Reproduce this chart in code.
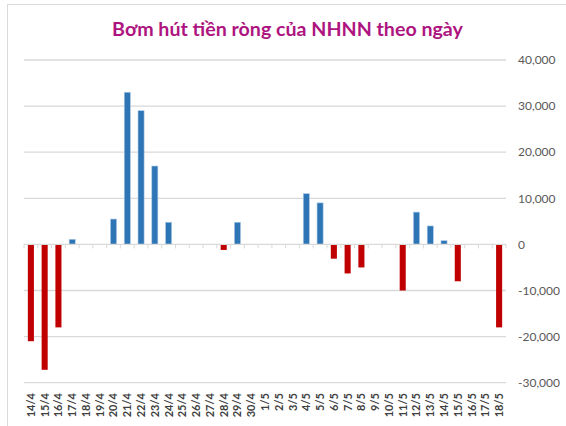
<!DOCTYPE html>
<html>
<head>
<meta charset="utf-8">
<script src="https://cdn.jsdelivr.net/npm/d3@7"></script>
<style>
  body { margin: 0; background: #fff; }
  svg { display: block; }
</style>
</head>
<body>
<div id="wrapper"></div>
<script>
// data
const dates = [
  '14/4', '15/4', '16/4', '17/4', '18/4', '19/4', '20/4', '21/4', '22/4',
  '23/4', '24/4', '25/4', '26/4', '27/4', '28/4', '29/4', '30/4',
  '1/5', '2/5', '3/5', '4/5', '5/5', '6/5', '7/5', '8/5', '9/5', '10/5',
  '11/5', '12/5', '13/5', '14/5', '15/5', '16/5', '17/5', '18/5'
];
const netValues = [
  -21000, -27200, -18000, 1100, 0, 0, 5500, 33000, 29000,
  17000, 4800, 0, 0, 0, -1200, 4800, 0,
  0, 0, 0, 11000, 9000, -3100, -6300, -5000, 0, 0,
  -10000, 7000, 4000, 800, -8000, 0, 0, -18000
];
const yTicks = [-30000, -20000, -10000, 0, 10000, 20000, 30000, 40000];
const title = 'Bơm hút tiền ròng của NHNN theo ngày';

const dataset = dates.map((d, i) => ({ date: d, value: netValues[i] }));

// dimensions
const dimensions = {
  width: 566,
  height: 426,
  plotLeft: 24,
  plotRight: 506,
  plotTop: 60,
  plotBottom: 382.7
};

const svg = d3
  .select('#wrapper')
  .append('svg')
  .attr('width', dimensions.width)
  .attr('height', dimensions.height);

// frame lines
svg.append('line')
  .attr('x1', 7.5).attr('x2', 7.5)
  .attr('y1', 4.5).attr('y2', dimensions.height)
  .attr('stroke', '#d9d9d9');
svg.append('line')
  .attr('x1', 7.5).attr('x2', dimensions.width)
  .attr('y1', 4.5).attr('y2', 4.5)
  .attr('stroke', '#d9d9d9');

// scales
const inner = 0.56;
const xScale = d3
  .scaleBand()
  .domain(dates)
  .range([dimensions.plotLeft, dimensions.plotRight])
  .paddingInner(inner)
  .paddingOuter(inner / 2);

const yScale = d3
  .scaleLinear()
  .domain([-30000, 40000])
  .range([dimensions.plotBottom, dimensions.plotTop]);

// gridlines
svg.append('g')
  .selectAll('line')
  .data(yTicks.filter(t => t !== 0))
  .join('line')
  .attr('x1', dimensions.plotLeft)
  .attr('x2', dimensions.plotRight)
  .attr('y1', d => yScale(d))
  .attr('y2', d => yScale(d))
  .attr('stroke', '#d9d9d9')
  .attr('stroke-width', 1.3);

// bars
svg.append('g')
  .selectAll('rect')
  .data(dataset.filter(d => d.value !== 0))
  .join('rect')
  .attr('x', d => xScale(d.date))
  .attr('width', xScale.bandwidth())
  .attr('y', d => yScale(Math.max(0, d.value)))
  .attr('height', d => Math.abs(yScale(d.value) - yScale(0)))
  .attr('fill', d => (d.value > 0 ? '#2e75b6' : '#c00000'))
  .attr('stroke', d => (d.value > 0 ? '#a7c6e6' : 'none'))
  .attr('stroke-width', 0.6);

// zero line with category ticks
const step = xScale.step();
const y0 = yScale(0);
svg.append('line')
  .attr('x1', dimensions.plotLeft)
  .attr('x2', dimensions.plotRight)
  .attr('y1', y0)
  .attr('y2', y0)
  .attr('stroke', '#d9d9d9')
  .attr('stroke-width', 1.3);

svg.append('g')
  .selectAll('line')
  .data(d3.range(dates.length + 1))
  .join('line')
  .attr('x1', i => dimensions.plotLeft + i * step)
  .attr('x2', i => dimensions.plotLeft + i * step)
  .attr('y1', y0)
  .attr('y2', y0 + 4)
  .attr('stroke', '#d9d9d9');

// y axis labels (right)
const yFormat = d3.format(',');
svg.append('g')
  .selectAll('text')
  .data(yTicks)
  .join('text')
  .attr('x', 518)
  .attr('y', d => yScale(d))
  .attr('dy', '0.35em')
  .attr('font-family', 'Lato, sans-serif')
  .attr('font-size', 12)
  .attr('fill', '#595959')
  .text(d => (d < 0 ? '-' : '') + yFormat(Math.abs(d)));

// x axis labels (rotated)
svg.append('g')
  .selectAll('text')
  .data(dates)
  .join('text')
  .attr('transform', d => `translate(${xScale(d) + xScale.bandwidth() / 2}, 393) rotate(-90)`)
  .attr('dy', '0.36em')
  .attr('text-anchor', 'end')
  .attr('font-family', 'Lato, sans-serif')
  .attr('font-weight', 'bold')
  .attr('font-size', 11)
  .attr('fill', '#404040')
  .text(d => d);

// title
const titleText = svg.append('text')
  .attr('x', 287.5)
  .attr('y', 36)
  .attr('text-anchor', 'middle')
  .attr('font-family', 'Lato, sans-serif')
  .attr('font-weight', 'bold')
  .attr('font-size', 20)
  .attr('fill', '#ae1480')
  .text(title);
const tw = titleText.node().getComputedTextLength();
titleText.attr('font-size', 20 * 351 / tw);
</script>
</body>
</html>
